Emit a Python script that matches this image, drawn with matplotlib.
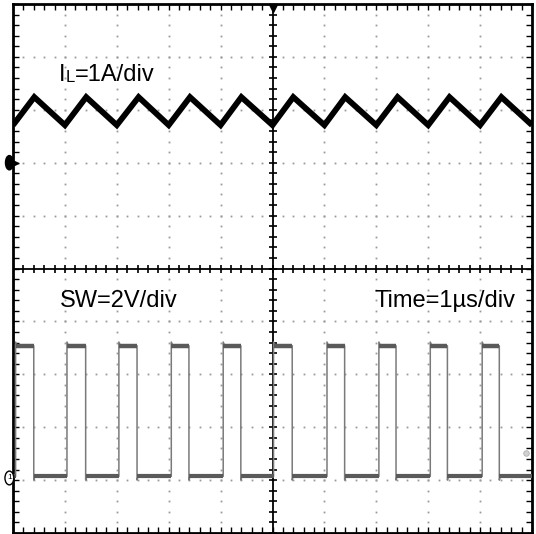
#!/usr/bin/env python3
"""Oscilloscope capture: inductor current and switch node of a buck converter."""

import matplotlib
matplotlib.use("Agg")
import matplotlib.pyplot as plt
from matplotlib.patches import Ellipse
import numpy as np

# Screen is 10 x 10 divisions, x in us (1 us/div), y in divisions from centre
# Inductor current trace: corner points of the triangle wave
IL_T = [0.0, 0.41, 1.0, 1.41, 2.0, 2.42, 3.0, 3.41, 4.0, 4.40, 5.0,
        5.40, 6.0, 6.40, 7.0, 7.41, 8.0, 8.41, 9.0, 9.41, 10.0]
IL_V = [2.71, 3.24, 2.71, 3.24, 2.71, 3.24, 2.71, 3.24, 2.71, 3.24, 2.71,
        3.24, 2.71, 3.24, 2.71, 3.24, 2.71, 3.24, 2.71, 3.24, 2.71]

# Switch node: edge times and levels
SW_RISE = [0.05, 1.04, 2.04, 3.05, 4.05, 5.02, 6.05, 7.05, 8.04, 9.04]
SW_FALL = [0.40, 1.40, 2.39, 3.39, 4.39, 5.38, 6.39, 7.38, 8.37, 9.37]
SW_HIGH = -1.46
SW_LOW = -3.93
SW_OVERSHOOT = 0.07

IL_GROUND = 2.0
SW_GROUND = -3.96

LABEL_IL = ("I", "L", "=1A/div")
LABEL_SW = "SW=2V/div"
LABEL_TIME = "Time=1\u00b5s/div"

FONT = "Liberation Sans"


def main():
    fig = plt.figure(figsize=(5.36, 5.34), dpi=100)
    ax = fig.add_axes([13 / 536, 1 / 534, 519 / 536, 529 / 534])
    ax.set_xlim(0, 10)
    ax.set_ylim(-5, 5)

    # frame with inward ticks every 0.2 div
    for s in ax.spines.values():
        s.set_linewidth(2.0)
    ax.set_xticks(np.arange(0, 10.01, 1))
    ax.set_yticks(np.arange(-5, 5.01, 1))
    ax.set_xticks(np.arange(0, 10.01, 0.2), minor=True)
    ax.set_yticks(np.arange(-5, 5.01, 0.2), minor=True)
    ax.tick_params(which="both", direction="in", length=4, width=1,
                   top=True, right=True, labelbottom=False, labelleft=False)

    # dotted graticule
    fine = np.arange(0, 10.01, 0.2)
    for g in [1, 2, 3, 4, 6, 7, 8, 9]:
        ax.plot(np.full_like(fine, g), fine - 5, ls="", marker="s", ms=1.3,
                mew=0, color="#9a9a9a", zorder=1)
        ax.plot(fine, np.full_like(fine, g - 5), ls="", marker="s", ms=1.3,
                mew=0, color="#9a9a9a", zorder=1)

    # centre axes with ticks
    ax.axhline(0, color="black", lw=1.3, zorder=2)
    ax.axvline(5, color="black", lw=1.3, zorder=2)
    ax.plot(fine, np.zeros_like(fine), ls="", marker="|", ms=6, mew=1.2,
            color="black", zorder=2)
    ax.plot(np.full_like(fine, 5), fine - 5, ls="", marker="_", ms=6, mew=1.2,
            color="black", zorder=2)

    # trigger position marker
    ax.plot([5], [4.93], marker="v", ms=6, color="black", clip_on=False, zorder=5)

    # inductor current
    ax.plot(IL_T, IL_V, color="black", lw=4.2, solid_joinstyle="miter",
            solid_capstyle="butt", zorder=4)

    # switch node: step path with small ringing at edges
    xs, ys = [0.0], [SW_LOW]
    for r, f in zip(SW_RISE, SW_FALL):
        xs += [r, r, r + 0.03, r + 0.08, f, f, f + 0.02, f + 0.07]
        ys += [SW_LOW, SW_HIGH + SW_OVERSHOOT, SW_HIGH, SW_HIGH,
               SW_HIGH, SW_LOW - SW_OVERSHOOT, SW_LOW, SW_LOW]
    xs.append(10.0)
    ys.append(SW_LOW)
    ax.plot(xs, ys, color="#7a7a7a", lw=1.1, zorder=3)
    # noise band on the flat levels
    ax.hlines([SW_HIGH] * len(SW_RISE), SW_RISE, SW_FALL,
              color="#5a5a5a", lw=3.2, zorder=3)
    low_start = [0.0] + SW_FALL
    low_end = SW_RISE + [10.0]
    ax.hlines([SW_LOW] * len(low_start), low_start, low_end,
              color="#5a5a5a", lw=3.0, zorder=3)

    # channel ground markers
    ax.add_patch(Ellipse((-0.07, IL_GROUND), 0.15, 0.27, color="black",
                         clip_on=False, zorder=6))
    ax.plot([0.05], [IL_GROUND], marker=">", ms=3, color="black",
            clip_on=False, zorder=6)
    ax.add_patch(Ellipse((-0.07, SW_GROUND), 0.17, 0.26, facecolor="white",
                         edgecolor="black", lw=1, clip_on=False, zorder=6))
    ax.text(-0.07, SW_GROUND, "1", fontsize=6, ha="center", va="center",
            family=FONT, zorder=7)
    ax.plot([9.88], [-3.49], marker="o", ms=4, mfc="#d0d0d0", mec="#b0b0b0",
            mew=0.6, zorder=3)

    # labels
    t1 = ax.text(0.88, 3.66, LABEL_IL[0], fontsize=17, family=FONT,
                 ha="left", va="center", zorder=5)
    t2 = ax.annotate(LABEL_IL[1], xy=(1, 0), xycoords=t1, fontsize=12,
                     family=FONT, ha="left", va="bottom", xytext=(0.5, 0.5),
                     textcoords="offset points", zorder=5)
    ax.annotate(LABEL_IL[2], xy=(1, 0), xycoords=t2, fontsize=17,
                family=FONT, ha="left", va="bottom", xytext=(0, -0.5),
                textcoords="offset points", zorder=5)
    ax.text(0.90, -0.62, LABEL_SW, fontsize=17, family=FONT,
            ha="left", va="center", zorder=5)
    ax.text(6.96, -0.62, LABEL_TIME, fontsize=17, family=FONT,
            ha="left", va="center", zorder=5)

    fig.savefig("out.png", dpi=100, facecolor="white")
    plt.close(fig)


if __name__ == "__main__":
    main()
